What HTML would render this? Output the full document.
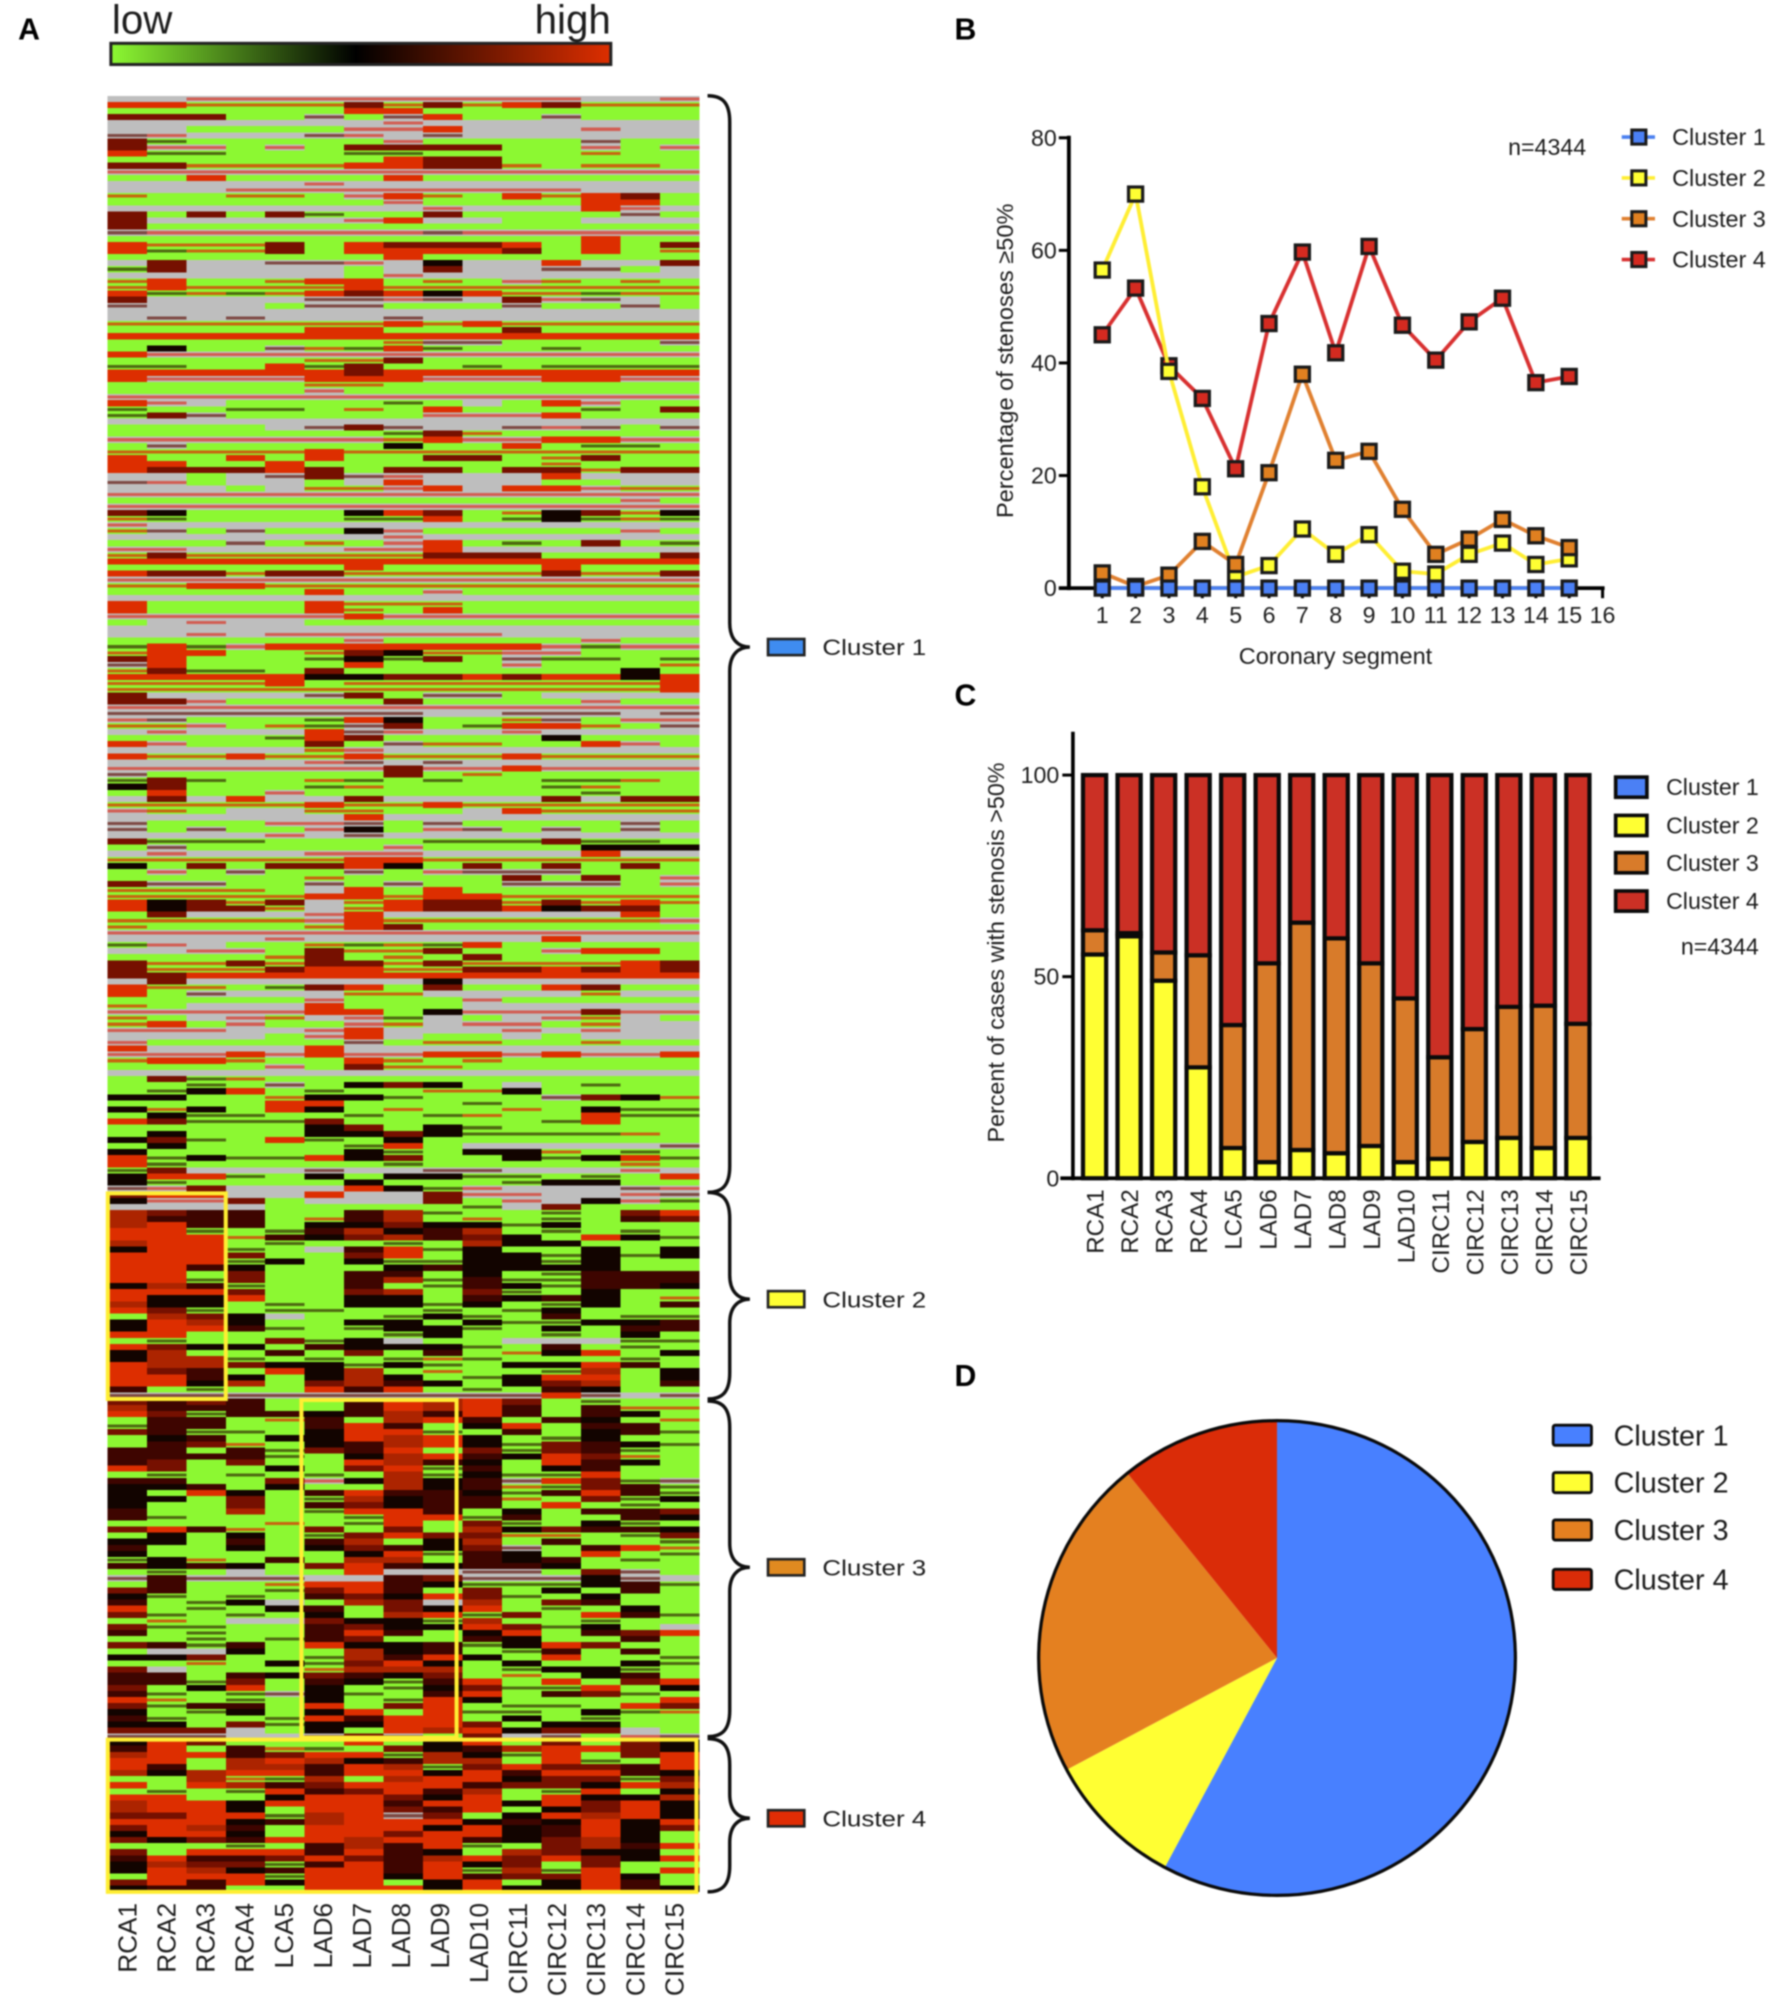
<!DOCTYPE html>
<html lang="en">
<head>
<meta charset="utf-8">
<title>Coronary stenosis clusters</title>
<style>
html,body{margin:0;padding:0;background:#fff;}
#figure{display:block;width:1772px;height:2002px;font-family:"Liberation Sans",sans-serif;filter:blur(0.7px);}
text{font-family:"Liberation Sans",sans-serif;fill:#1c1c1c;}
.panel{font-weight:bold;font-size:30px;fill:#000;}
</style>
</head>
<body>
<svg id="figure" xmlns="http://www.w3.org/2000/svg" width="1772" height="2002" viewBox="0 0 1758.1 1986.3">
<defs>
<linearGradient id="cbar" x1="0" x2="1" y1="0" y2="0">
<stop offset="0" stop-color="#8CF832"/><stop offset="0.49" stop-color="#000"/><stop offset="1" stop-color="#DD2E00"/>
</linearGradient>
</defs>
<rect width="1772" height="2002" fill="#fff"/>
<text class="panel" x="18" y="39">A</text>
<text class="panel" x="947" y="39">B</text>
<text class="panel" x="947" y="700">C</text>
<text class="panel" x="947" y="1375">D</text>
<text x="111" y="33" font-size="40">low</text>
<text x="606" y="33" font-size="40" text-anchor="end">high</text>
<rect x="110" y="43" width="496" height="21" fill="url(#cbar)" stroke="#222" stroke-width="3"/>
<g id="heat" shape-rendering="crispEdges"></g>
<g id="heatOver"></g>
<g id="chartB"></g>
<g id="chartC"></g>
<g id="chartD"></g>
</svg>
<script>
const clusterNames = ["Cluster 1","Cluster 2","Cluster 3","Cluster 4"];
const heatColumns = ["RCA1","RCA2","RCA3","RCA4","LCA5","LAD6","LAD7","LAD8","LAD9","LAD10","CIRC11","CIRC12","CIRC13","CIRC14","CIRC15"];
/* per-cell level codes: g low, d, k mid, n, m, a, r high, x missing; o, p, b resampled blends */
const heatmapRows = [
"xxppppppppppxxp","rroooomomormooo","ggggggrrggggggg","mmmggbgbrggbggg","xxxxxxxpxxxxxxx","xxggggpprxxxpxx","bpxxxbpxbxxxxxx","mdgggggpggggbgg","mppgpgmmmmggpgp","rddgggddggggogg",
"gggggggrmmggggg","mmoooorrmmogoog","ppppppppppppppp","ggrggggrggggggg","xxxxxpxxxxxxxxx","xxxpppppppppxxx","oggoogprogrormg","gggggggpggggrrg","xxxxxxxxpxxxrpx","mgmgmdggmggggbg",
"mxxxxxprxxggxxx","mgggggggggggggg","bpppppppbpppppp","ggggggggggggrgg","rooomgrmmmrgrgm","rdoomgrrrrmgrgo","gggggggrggggggg","xmxxbbpxkxxrxxm","dmxxxxgxmxxbbgx","xxxxxxgpxxxxxxx",
"orggorrgogpogog","orooooroooooooo","rdodormrkroodoo","mxxxxbbpbxmpbxg",
"bxxxgbbgggbggbg","xxxxxxxxxxxxxxx","xbxbxxxbxxxxxxx","ooooooororooooo","gggggrrgggmgggg","rrrrrrrrrrrrrrr","gggggggobbggggb","gkggbodrdggdggg","rpppppppppppppp","gggggoomggggggg",
"ddggrdmggdgdddd","rrrrrrmrrrrrrrr","rpppprrrppprrpp","gggggoogggggggg","gggggpggggggggg","ppppppppppppppp","rpxggggdgxgrpgg","dggddgogrgggdgm","dmbgggggppprggg","xxxxxxxxxxxxxxx",
"ggggxbmbxxbpbgb","gggggggdmoggggg","ppppppporpprrpp","gbgggggkggrgddg","ooooorooooooooo","rggrgrggmmgomgg","rrggrggggggoggg","rmmmrmgmmgmmomm","xxgxbmbpxxxrxxx","bpgxxgxrxxxggxx",
"xxxgxooprxrrpoo","ppppppppppppppp","gggggggggggggpg","ppppppppppppppp","mkggggkrmgokmok","odggggddrgdkdod","pxxxxxxxxxxxxxx","obgbggkpgggggpg","xxxxxxxpxxxxxxx","gggbgogprgdgmgd",
"ppxxxxpprxxxxxx","omoooooommmgggm","rrrrrrrrrrrrrrr","ggggggrggggrggg","rmmommooooomoom","ppppppppppppppp","oorrooooooooooo","gggggrggpgggggg","xxxxxxxxxxxxxxx","rggggrooogggggg",
"rggggrogrgggggg","pppppprpppppppp","gxpxxgggggggggg","xxxxxxxxxxxxxxx","xxpxppppppxxxxx","ggggggpgggggpgg","drdprrrrrrrpdpp","orrggomkooppggg","mrgggdkdmgbddgd","brggggrgggpgggo",
"omddgmgggggggkg","rrrrrkkmmrmrrkr","oooorgoooooooor","oooooooooooooor","mxxxxbmgbbgxxxx","mmpggggmggggpgg","ppppppppppppppp","bbbbbbbbxxbbbxb","pbgggdrkggobgpp","oopgodbmgdrrogb",
"xpxxxrbpxxpxxxx","ggggdrmggggkggg","rpgggmgbooggrpg","xxxxxopxxxxxxxx","roorooroooroooo","xxxxxpbxbxxxxxx","pppppppmpprpppp","bggggggmgoggggg","dmdggodgdggddog","kmgggdoggggdogg",
"grggpgggggggdgg","xmxrxxmxxxxmxmm","ooooorooroooooo","pogxxooggxroooo","xxxxxxrxxxxxxxx","bgggppbgbggggbg","bgbggpkgpbgbgbg","xxxxpxbxxxxxxxx","mdddggggdddmddg","gbgggggpggggkkk",
"xpxxxpppxxxxrxx","oooooorrooooooo","kgmgmmrkgmgmgmg","gpgbggbgpbbbggg","gggggoggggmgmgp","mbbggbgbggbbbgp","oooogxrgrgggggg","ooooorrorrooooo","rkmomxormmomoro","rkmmoxormmrkmmg",
"gmxxxprxxxxxxrg","oooooprooooooop","oggggormggggggg","ppppppppppppppp","xxxxpxxxxxxrxxx","dpxggododrggggg","xxppgmoomggprrg","ggggomgogmggggg","moomommomoooorm","mooomrroommrmrm",
"mmrrrrrrrrrrrrr","xmxxxxxxkxxxxxx","roogdmrgmggrmgg","rgbxxxooxxxxoxx","gggggpgggpggggg","ogxxxrgggxxxxxx","ppppprrgkpppmpp","ogxpoxpdxgxpoxg","orgpggpoxppgoxx","pppxxprxxxpxpxx",
"xxxxgprxggxgxxx","pgggggbgooggogg","rxxxxrxxxxxxxxx","ppprprpprrprppr","orroggrogoggggg","ggggpgmoogggggg","xxxxxxxxxxxxxxx","gmdoggggggggggg","ggdgbgkmkgxgdgg","gdkrgdggookgggg",
"kkggokkdgggbmko","ggggrrgggdggggg","kokgrkgoggogkdd","gkddggdgdoggrdd","rmdddmgggggdrgg","gggggkmgkdggggg","gkgggkkmkddddog","kmdgrdgkggggggg","gkggggdrgxxxxxb","kgggggkdgkkogdg",
"rdkddrkmggkdkrd","rdgggggdgggggog","dmxxxbxxbbxxxpx","krrdgkgkkddgdgr","kdggggkgggdkkgg",
"bpmxxxrkdpxxxbp","mrrxxrxxmppxxpb","kppmgxxxmgpxkpd","xxxxgggggdxmggg","amnnggnadggdgmr","annngonagogdgnm","arnngkkmkkdkggg","rrdgdnaknagdgdg","rrronkmanmkgrkd","arrgdggdgakkggg",
"krrdgxnrdkggkgk","rrrmggmrgkkdkdk","rrrdkgkddkkdkgg","rrnkgggknkkkkgg","rrgmggnngkgdnnn","rrdmggnadnddnnn","kandggngdnkdnnk","rrrmggmagmdgkgg","rkkrggkkgnknkgo","akkgdgkkdkgdkgn",
"rmdgddggdgdkggg","gamkxggdkdgngdd","krakggkkgkddkkn","krrndgdkkdgkgnn","rrgggggdkggdgkg","gdggmdkxggxxxdd","rmkkgnkkkdgngdg","kaggngmgngokrgk","kaadgdgdodgggdg","raamkkdkdgkkrng",
"rmngrkagoggdagk","rrnkgkakgdkrrgk","rrkagmankgkmagn","ngdggrnrgdgnkgg",
"bbbbbbbbbbbrbxb","mnmnggnrarmgdgg","annnggnrarngnoo","rmdnnknanrngnkg","gnngongarngnkgo","dnnggnrngkrgnng","mnddgkrrdgngknd","gkngkkrarkgdkgg",
"gnmogknarkdmnkd","nngndmnrgmdmndg","nnnndgkarnkrmog","nmgmggrankgrnkg","rmggkgmrdngkngg","gdgdgdgadkddrgg","nnggmpkaknbrmdb","kkngkggaknodmnd","kgrkgnrnnkdnrnd","kkgmgdaknnogmdk",
"kggmgnmknngrgdg","nggagdrrngkgnnm","ndggggdrrdnggnk","ggggogdrgmdgkdg","mrnogmgmgakmnnk","gkgkgdmrmmoogdm","kkgngnagkagnggd","nggkgkmnkmbgnro","kgggggkrdnkgrgd","dkogngaagnkngdg",
"nknkgmrnknnkggg","gdgxggrxxbbgmbg","bnbbbxxnmbbbkbx","gnggorrnkdddknd","mnggdmrngmgkgng","kdgdgnmkrmdgkgg","ngdkxgamxagmngg","rgdgkngmkrgdgkg","mdgdgkgardmgrnd","gogxxmkkdaggdgg",
"mddggnmkkrmdkgx","ngdggnrngkrgnmr","ggdgdnmggnkggng","mndngrkkndkrmgg","gxxkggakngdngng","kkmggdanrkgrggd","ggogkdmrkgkggkd","mxgggoaaagdkkdg","nngnkmnkmgogkng","nndmgnkdnrgrgmr",
"mgkrgkgdkmddrgk","ndgdbkdgnrgnmdg","rogdgkgdrkggggr","mdnngrgmrgddgrm","kgdkgkrgrddgkdo","ndggdrnrrgkgdgg","kkgmdkkrrmgkkgg","mmmxgkgrarkmmxg",
"bbbxxbmbgmxbgpb","krmgggrgkrgmgmk","nrgnodgmknarrmk","arrnmrrdakdrgmr","rrgaraknaagrdgr","rngaanradmrmmnr","akarrnrrkrnrrnk","ggaodagarrkmmdm","rgranmrrrnmmkra","gdgdrnmrnagdrgk",
"rrggkrrmkrgrkka","arrkrrrnrrkrmrk","arrkgrrmnrgkmrk","mmrrdarbmgkrark","rrrknarrrknkrkr","mrangrrrkrknrkm","krrkgrrmrrknrkg","mkmnrrarrnkmakg","gggdgnanrdgmanr","mgrrrnrnkgamkkg",
"nrnnmrmnarmrmkr","kammdnrnrkmgmgg","kraknrrnrdadrgr","grrrdrrkrnmmrkg","mrnrkrrgkrgkrng","knnggrrrkrkkrnk"
];
const lineCategories = [1,2,3,4,5,6,7,8,9,10,11,12,13,14,15];
const lineXTicks = [1,2,3,4,5,6,7,8,9,10,11,12,13,14,15,16];
const lineYTicks = [0,20,40,60,80];
const lineCluster1 = [0,0,0,0,0,0,0,0,0,0,0,0,0,0,0];
const lineCluster2 = [56.5,70,38.5,18,2,4,10.5,6,9.5,3,2.5,6,8,4.2,5.2];
const lineCluster3 = [2.7,0.3,2.3,8.3,4.2,20.5,38,22.7,24.3,14,6,8.7,12.2,9.3,7.2];
const lineCluster4 = [45,53.3,39.5,33.7,21.2,47,59.7,41.8,60.7,46.7,40.5,47.3,51.5,36.5,37.6];
const barCategories = ["RCA1","RCA2","RCA3","RCA4","LCA5","LAD6","LAD7","LAD8","LAD9","LAD10","CIRC11","CIRC12","CIRC13","CIRC14","CIRC15"];
const barYTicks = [0,50,100];
const barCluster2 = [55.5,60,49,27.5,7.5,4,7,6.2,8,4,4.8,9,10,7.5,10];
const barCluster3 = [6,0.8,7,27.8,30.5,49.3,56.4,53.3,45.3,40.6,25.2,28,32.5,35.3,28.3];
const barCluster4 = [38.5,39.2,44,44.7,62,46.7,36.6,40.5,46.7,55.4,70,63,57.5,57.2,61.7];
const pieValues = [57.8,9.4,22,10.8];

const NS = "http://www.w3.org/2000/svg";
function make(parent, tag, attrs, content) {
  const el = document.createElementNS(NS, tag);
  for (const k in attrs) el.setAttribute(k, attrs[k]);
  if (content !== undefined) el.textContent = content;
  parent.appendChild(el);
  return el;
}

/* ---------- A: heatmap ---------- */
const heatLeft = 106.5, heatRight = 694, heatTop = 95, heatBottom = 1877;
const cellFill = {g:"#8CF832",d:"#4E6A12",k:"#120400",n:"#3E0500",m:"#761000",a:"#AC2400",r:"#DD2E00",x:"#BEBEBE",o:"#C86410",p:"#D25C52",b:"#7E4A44"};
const thinBase = {o:"#8CF832",d:"#8CF832",p:"#BEBEBE",b:"#BEBEBE"};
const xHeat = i => heatLeft + i * (heatRight - heatLeft) / heatColumns.length;
const yHeat = r => heatTop + r * (heatBottom - heatTop) / heatmapRows.length;
const heat = document.getElementById("heat");
heatmapRows.forEach((row, r) => {
  for (let c = 0; c < heatColumns.length; c++) {
    const code = row[c];
    const h = yHeat(r+1) - yHeat(r);
    const w = xHeat(c+1) - xHeat(c);
    const base = thinBase[code];
    if (base) {
      const under = make(heat, "rect", {x:xHeat(c), y:yHeat(r), width:w, height:h, fill:base});
      
      
    }
    const cell = make(heat, "rect", {x:xHeat(c), y:base ? yHeat(r)+h*0.25 : yHeat(r), width:w, height:base ? h*0.5 : h, fill:cellFill[code] || "#BEBEBE"});
    
    
  }
});
const over = document.getElementById("heatOver");
heatColumns.forEach((name, i) => {
  const cx = 126.5 + i * 38.75;
  const t = make(over, "text", {x:0, y:0, "font-size":26, "text-anchor":"end", transform:`translate(${cx+9},1888) rotate(-90)`, fill:"#333"}, name);
  
  
});
const highlightBoxes = [[107,1184,224,1388],[299,1389,453,1724],[107,1726,691,1877]];
highlightBoxes.forEach(b => {
  const el = make(over, "rect", {x:b[0], y:b[1], width:b[2]-b[0], height:b[3]-b[1], fill:"none", stroke:"#FFEE33", "stroke-width":4});
  
  
});
const braceSpans = [[95,1183,642],[1183,1388,1289],[1390,1723,1555],[1725,1877,1804]];
const braceColors = ["#3F8CF0","#FFFF33","#E08A20","#E02D05"];
braceSpans.forEach((s, i) => {
  const xL = 702, xS = 724, xT = 744, t = s[0], b = s[1], m = s[2];
  const d = `M${xL} ${t} C${xL+14} ${t} ${xS} ${t+6} ${xS} ${t+26} L${xS} ${m-24} C${xS} ${m-8} ${xS+8} ${m} ${xT} ${m} C${xS+8} ${m} ${xS} ${m+8} ${xS} ${m+24} L${xS} ${b-26} C${xS} ${b-6} ${xL+14} ${b} ${xL} ${b}`;
  const br = make(over, "path", {d:d, fill:"none", stroke:"#111", "stroke-width":3.4});
  
  
  const sw = make(over, "rect", {x:762, y:m-8, width:36, height:16, fill:braceColors[i], stroke:"#222", "stroke-width":2.6});
  
  
  const lb = make(over, "text", {x:816, y:m+8, "font-size":22, textLength:103, lengthAdjust:"spacingAndGlyphs", fill:"#444"}, clusterNames[i]);
  
  
});

/* ---------- B: line chart ---------- */
const chartB = document.getElementById("chartB");
const xB = v => 1060.5 + (v) * ((1590 - 1060.5) / 16);
const yB = v => 583.5 - v * (583.5 - 136.7) / 80;
const lineSeries = [
  {name:"Cluster 4", values:lineCluster4, line:"#D83030", fill:"#D42A20"},
  {name:"Cluster 2", values:lineCluster2, line:"#FFEE33", fill:"#FFFF33"},
  {name:"Cluster 3", values:lineCluster3, line:"#E08030", fill:"#E08020"},
  {name:"Cluster 1", values:lineCluster1, line:"#4A80F0", fill:"#4B80F5"}
];
const axisY = make(chartB, "line", {x1:xB(0), x2:xB(0), y1:yB(80)-2, y2:yB(0)+2, stroke:"#000", "stroke-width":3.8});


const axisX = make(chartB, "line", {x1:xB(0)-10, x2:xB(16)+2, y1:yB(0), y2:yB(0), stroke:"#000", "stroke-width":3.8});


lineYTicks.forEach(v => {
  const t = make(chartB, "line", {x1:xB(0)-10, x2:xB(0), y1:yB(v), y2:yB(v), stroke:"#000", "stroke-width":3});
  
  
  const l = make(chartB, "text", {x:xB(0)-12, y:yB(v)+8, "font-size":23, "text-anchor":"end"}, v);
  
  
});
lineXTicks.forEach(v => {
  const t = make(chartB, "line", {x1:xB(v), x2:xB(v), y1:yB(0), y2:yB(0)+10, stroke:"#000", "stroke-width":3});
  
  
  const l = make(chartB, "text", {x:xB(v), y:618, "font-size":23, "text-anchor":"middle"}, v);
  
  
});
lineSeries.forEach(s => {
  const pts = s.values.map((v, i) => xB(lineCategories[i]) + "," + yB(v)).join(" ");
  const pl = make(chartB, "polyline", {points:pts, fill:"none", stroke:s.line, "stroke-width":3.8, "stroke-linejoin":"round"});
  
  
  s.values.forEach((v, i) => {
    const m = make(chartB, "rect", {x:xB(lineCategories[i])-7, y:yB(v)-7, width:14, height:14, fill:s.fill, stroke:"#1a1a1a", "stroke-width":3.2});
    
    
  });
});
const xTitleB = make(chartB, "text", {x:1325, y:659, "font-size":23, "text-anchor":"middle", textLength:192, lengthAdjust:"spacingAndGlyphs"}, "Coronary segment");


const yTitleB = make(chartB, "text", {x:0, y:0, "font-size":23, "text-anchor":"middle", textLength:312, lengthAdjust:"spacingAndGlyphs", transform:"translate(1005,358) rotate(-90)"}, "Percentage of stenoses ≥50%");


const nB = make(chartB, "text", {x:1535, y:154, "font-size":23, "text-anchor":"middle"}, "n=4344");


const legendRowsB = [136,176.5,217,257.5];
const legendStylesB = [lineSeries[3],lineSeries[1],lineSeries[2],lineSeries[0]];
legendRowsB.forEach((y, i) => {
  const s = legendStylesB[i];
  const ln = make(chartB, "line", {x1:1609, x2:1642, y1:y, y2:y, stroke:s.line, "stroke-width":3.6});
  
  
  const mk = make(chartB, "rect", {x:1619, y:y-7, width:14, height:14, fill:s.fill, stroke:"#1a1a1a", "stroke-width":3});
  
  
  const tx = make(chartB, "text", {x:1659, y:y+8, "font-size":23, textLength:93, lengthAdjust:"spacingAndGlyphs"}, clusterNames[i]);
  
  
});

/* ---------- C: stacked bars ---------- */
const chartC = document.getElementById("chartC");
const xC = i => 1086 + i * 34.25;
const yC = v => 1169 - v * 4;
const barWidth = 23;
const cBarColors = ["#FFFF33","#D87B2A","#CB3025"];
const cAxisY = make(chartC, "line", {x1:1064.5, x2:1064.5, y1:726, y2:1171, stroke:"#000", "stroke-width":3.6});


const cAxisX = make(chartC, "line", {x1:1052, x2:1588, y1:1169, y2:1169, stroke:"#000", "stroke-width":3.8});


barYTicks.forEach(v => {
  const t = make(chartC, "line", {x1:1054, x2:1064, y1:yC(v), y2:yC(v), stroke:"#000", "stroke-width":3});
  
  
  const l = make(chartC, "text", {x:1051, y:yC(v)+8, "font-size":23, "text-anchor":"end"}, v);
  
  
});
barCategories.forEach((name, i) => {
  let base = 0;
  [barCluster2[i], barCluster3[i], barCluster4[i]].forEach((v, k) => {
    const r = make(chartC, "rect", {x:xC(i)-barWidth/2, y:yC(base+v), width:barWidth, height:yC(base)-yC(base+v), fill:cBarColors[k], stroke:"#0a0a0a", "stroke-width":4.2});
    
    
    base += v;
  });
  const l = make(chartC, "text", {x:0, y:0, "font-size":24, "text-anchor":"end", transform:`translate(${xC(i)+9},1180) rotate(-90)`}, name);
  
  
});
const yTitleC = make(chartC, "text", {x:0, y:0, "font-size":23, "text-anchor":"middle", textLength:377, lengthAdjust:"spacingAndGlyphs", transform:"translate(996,945) rotate(-90)"}, "Percent of cases with stenosis >50%");


const legendRowsC = [781,819,856,894];
const legendFillC = ["#4B80F5","#FFFF33","#D87B2A","#CB3025"];
legendRowsC.forEach((y, i) => {
  const sw = make(chartC, "rect", {x:1603, y:y-10, width:31, height:20, fill:legendFillC[i], stroke:"#0a0a0a", "stroke-width":3.6});
  
  
  const tx = make(chartC, "text", {x:1653, y:y+8, "font-size":23, textLength:92, lengthAdjust:"spacingAndGlyphs"}, clusterNames[i]);
  
  
});
const nC = make(chartC, "text", {x:1745, y:947, "font-size":23, "text-anchor":"end"}, "n=4344");



/* ---------- D: pie ---------- */
const chartD = document.getElementById("chartD");
const pieFill = ["#4880FF","#FFFF33","#E48020","#DA2C08"];
const pcx = 1267, pcy = 1645, prx = 236.5, pry = 235.5;
const pieTotal = pieValues.reduce((a, b) => a + b, 0);
let pieAcc = 0;
pieValues.forEach((v, i) => {
  const a0 = pieAcc / pieTotal * 2 * Math.PI;
  pieAcc += v;
  const a1 = pieAcc / pieTotal * 2 * Math.PI;
  const large = (a1 - a0) > Math.PI ? 1 : 0;
  const d = `M${pcx} ${pcy} L${pcx+prx*Math.sin(a0)} ${pcy-pry*Math.cos(a0)} A${prx} ${pry} 0 ${large} 1 ${pcx+prx*Math.sin(a1)} ${pcy-pry*Math.cos(a1)} Z`;
  const s = make(chartD, "path", {d:d, fill:pieFill[i]});
  
  
});
const pieRim = make(chartD, "ellipse", {cx:pcx, cy:pcy, rx:prx, ry:pry, fill:"none", stroke:"#0a0a0a", "stroke-width":3.2});


const legendRowsD = [1424,1471,1518,1567];
legendRowsD.forEach((y, i) => {
  const sw = make(chartD, "rect", {x:1541, y:y-10, width:38, height:20, rx:2, fill:pieFill[i], stroke:"#0a0a0a", "stroke-width":2.8});
  
  
  const tx = make(chartD, "text", {x:1601, y:y+10, "font-size":28, textLength:114, lengthAdjust:"spacingAndGlyphs"}, clusterNames[i]);
  
  
});
</script>
</body>
</html>
